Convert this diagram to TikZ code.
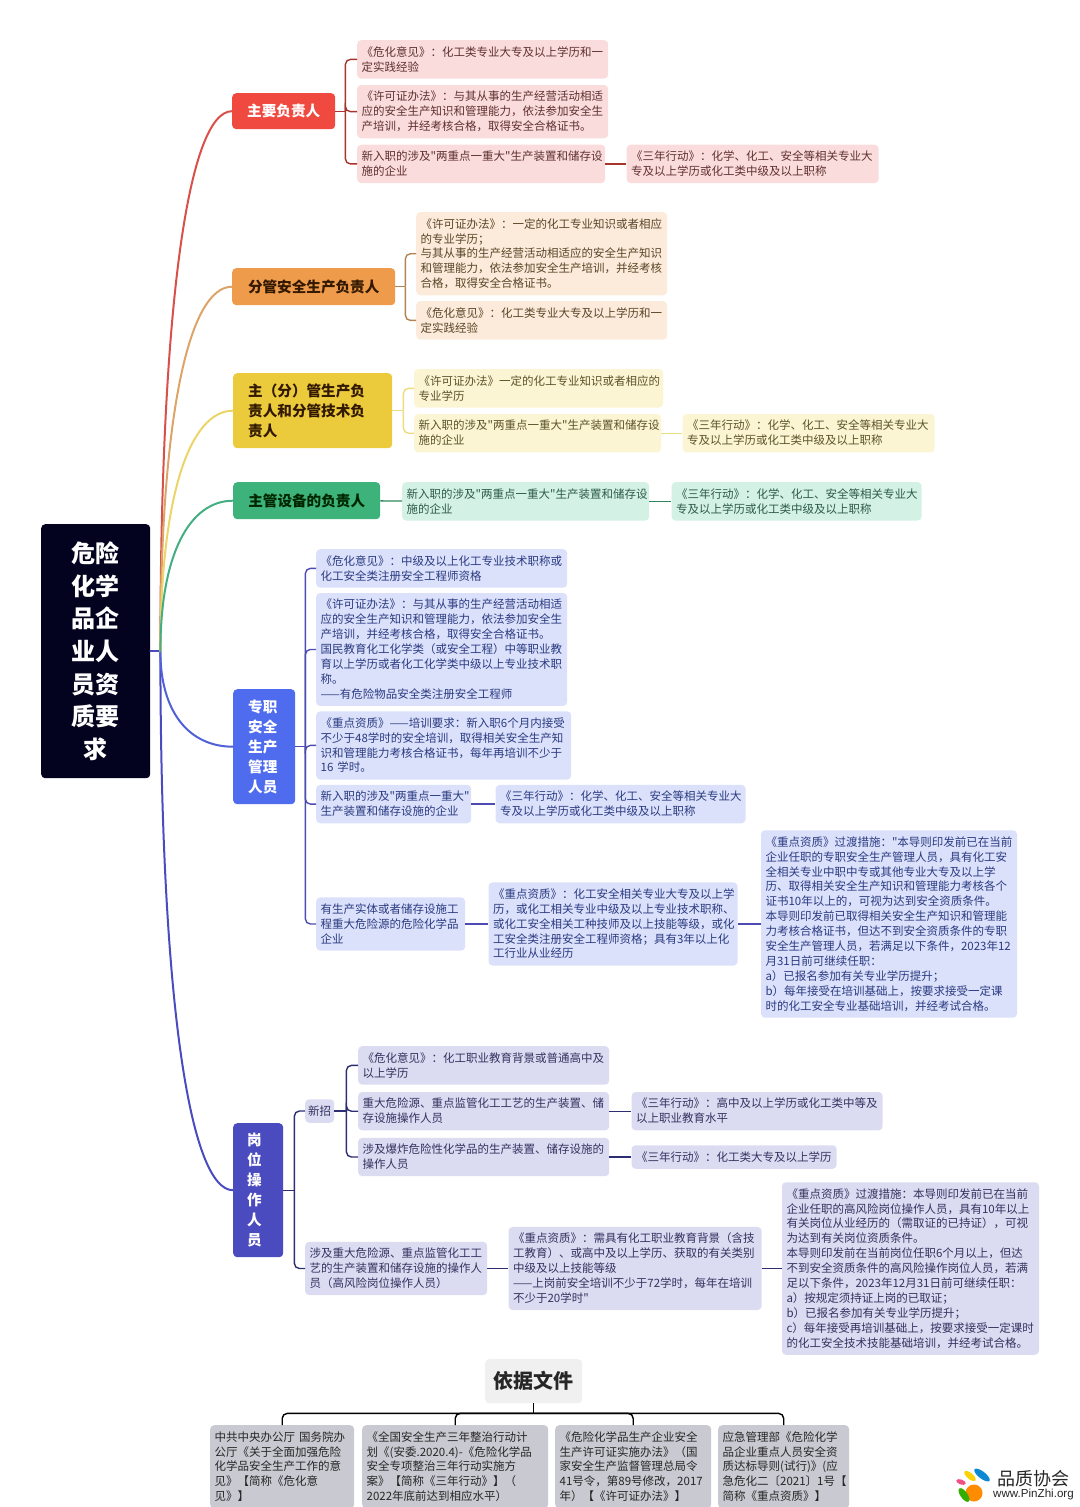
\documentclass[tikz,border=0pt]{standalone}
\usepackage{fontspec}
\setmainfont{Noto Sans CJK SC}[Ligatures=TeXOff]
\setsansfont{Liberation Sans}
\usetikzlibrary{positioning,calc}
\definecolor{rootfill}{HTML}{03031F}
\definecolor{redfill}{HTML}{F04A40}
\definecolor{orangefill}{HTML}{EE9B4C}
\definecolor{yellowfill}{HTML}{EBCB3C}
\definecolor{greenfill}{HTML}{3DB27A}
\definecolor{bluefill}{HTML}{4F6BEE}
\definecolor{indigofill}{HTML}{4B4BC0}
\definecolor{redleaffill}{HTML}{FBDCDC}
\definecolor{orangeleaffill}{HTML}{FCEBDA}
\definecolor{yellowleaffill}{HTML}{FBF5D3}
\definecolor{greenleaffill}{HTML}{D3F1E4}
\definecolor{blueleaffill}{HTML}{DBE1FB}
\definecolor{indigoleaffill}{HTML}{DBDBF2}
\definecolor{docfill}{HTML}{C9C9D2}
\definecolor{redtext}{HTML}{5E3030}
\definecolor{orangetext}{HTML}{5A4528}
\definecolor{yellowtext}{HTML}{5C5228}
\definecolor{greentext}{HTML}{2D5A48}
\definecolor{bluetext}{HTML}{2A3A80}
\definecolor{indigotext}{HTML}{33335F}
\definecolor{redline}{HTML}{D8504A}
\definecolor{orangeline}{HTML}{DDA468}
\definecolor{yellowline}{HTML}{EBD468}
\definecolor{greenline}{HTML}{44AE83}
\definecolor{blueline}{HTML}{5060D8}
\definecolor{indigoline}{HTML}{4B4BC0}

\begin{document}
\begin{tikzpicture}
  [x=1pt,y=-1pt,
   topic/.style={
    rounded corners=4pt,
    inner sep=0pt,
    align=center,
    anchor=north west,
    minimum width=#1,
    font=\fontsize{14.6}{20}\selectfont\bfseries
    },
   leaf/.style={
    rounded corners=4pt,
    inner xsep=4.5pt,
    inner ysep=4.3pt,
    text width=#1-9pt,
    align=left,
    execute at begin node=\rule[-3.3pt]{0pt}{14.9pt},
    execute at end node=\rule[-3.3pt]{0pt}{14.9pt},
    font=\fontsize{11.5}{14.9}\selectfont
    },
   redleaf/.style={leaf=#1,fill=redleaffill,text=redtext},
   orangeleaf/.style={leaf=#1,fill=orangeleaffill,text=orangetext},
   yellowleaf/.style={leaf=#1,fill=yellowleaffill,text=yellowtext},
   greenleaf/.style={leaf=#1,fill=greenleaffill,text=greentext},
   blueleaf/.style={leaf=#1,fill=blueleaffill,text=bluetext},
   indigoleaf/.style={leaf=#1,fill=indigoleaffill,text=indigotext},
   docleaf/.style={leaf=#1,fill=docfill,text=black!85,anchor=north west},
   branch/.style={line width=2pt,line cap=round},
   bracket/.style={line width=1.4pt,rounded corners=5pt}
  ]
  \useasboundingbox (0,0) rectangle (1079,1507);

  % ROOT
  \node [fill=rootfill,text=white,rounded corners=4pt,anchor=north west,
    minimum width=109pt,minimum height=254pt,inner sep=0pt,align=center,
    font=\fontsize{24}{32.6}\selectfont\bfseries]
    (root) at (41,524)
    {危险\\化学\\品企\\业人\\员资\\质要\\求};
  \coordinate [right=10pt of root.east] (hub);

  % TOPICS
  \node [topic=103pt,fill=redfill,text=white,minimum height=36pt] (zhuyao) at (232,93) {主要负责人};
  \node [topic=163pt,fill=orangefill,text=black!80!orange,minimum height=37pt] (fenguan) at (232,268) {分管安全生产负责人};
  \node [topic=159pt,fill=yellowfill,text=black!80!orange,minimum height=75pt,align=left,text width=129pt] (zhufen) at (233,373)
    {主（分）管生产负\\责人和分管技术负\\责人};
  \node [topic=147pt,fill=greenfill,text=black!85!green,minimum height=37pt] (shebei) at (233,482) {主管设备的负责人};
  \node [topic=62pt,fill=bluefill,text=white,minimum height=115pt,align=left,text width=32pt] (zhuanzhi) at (233,689)
    {专职\\安全\\生产\\管理\\人员};
  \node [topic=50pt,fill=indigofill,text=white,minimum height=134pt,align=left,text width=22pt] (gangwei) at (233,1123)
    {岗\\位\\操\\作\\人\\员};

  % RED
  \node [redleaf=251pt,anchor=north west] (weihuaA) at (357,40)
    {《危化意见》：化工类专业大专及以上学历和一\\定实践经验};
  \node [redleaf=251pt,below=6pt of weihuaA.south west,anchor=north west] (xukeA)
    {《许可证办法》：与其从事的生产经营活动相适\\应的安全生产知识和管理能力，依法参加安全生\\产培训，并经考核合格，取得安全合格证书。};
  \node [redleaf=248pt,below=6pt of xukeA.south west,anchor=north west] (xinruA)
    {新入职的涉及"两重点一重大"生产装置和储存设\\施的企业};
  \node [redleaf=252pt,right=21pt of xinruA] (sannianA)
    {《三年行动》：化学、化工、安全等相关专业大\\专及以上学历或化工类中级及以上职称};

  % ORANGE
  \node [orangeleaf=251pt,anchor=north west] (xukeB) at (416,212)
    {《许可证办法》：一定的化工专业知识或者相应\\的专业学历；\\与其从事的生产经营活动相适应的安全生产知识\\和管理能力，依法参加安全生产培训，并经考核\\合格，取得安全合格证书。};
  \node [orangeleaf=251pt,below=5.5pt of xukeB.south west,anchor=north west] (weihuaB)
    {《危化意见》：化工类专业大专及以上学历和一\\定实践经验};

  % YELLOW
  \node [yellowleaf=249pt,anchor=north west] (xukeC) at (414,369)
    {《许可证办法》一定的化工专业知识或者相应的\\专业学历};
  \node [yellowleaf=247pt,below=6pt of xukeC.south west,anchor=north west] (xinruC)
    {新入职的涉及"两重点一重大"生产装置和储存设\\施的企业};
  \node [yellowleaf=252pt,right=21pt of xinruC] (sannianC)
    {《三年行动》：化学、化工、安全等相关专业大\\专及以上学历或化工类中级及以上职称};

  % GREEN
  \node [greenleaf=247pt,anchor=north west] (xinruD) at (402,482)
    {新入职的涉及"两重点一重大"生产装置和储存设\\施的企业};
  \node [greenleaf=250pt,right=22pt of xinruD] (sannianD)
    {《三年行动》：化学、化工、安全等相关专业大\\专及以上学历或化工类中级及以上职称};

  % BLUE
  \node [blueleaf=251pt,anchor=north west] (weihuaE) at (316,549)
    {《危化意见》：中级及以上化工专业技术职称或\\化工安全类注册安全工程师资格};
  \node [blueleaf=251pt,below=5pt of weihuaE.south west,anchor=north west] (xukeE)
    {《许可证办法》：与其从事的生产经营活动相适\\应的安全生产知识和管理能力，依法参加安全生\\产培训，并经考核合格，取得安全合格证书。\\国民教育化工化学类（或安全工程）中等职业教\\育以上学历或者化工化学类中级以上专业技术职\\称。\\——有危险物品安全类注册安全工程师};
  \node [blueleaf=255pt,below=5pt of xukeE.south west,anchor=north west] (zhongdianE)
    {《重点资质》——培训要求：新入职6个月内接受\\不少于48学时的安全培训，取得相关安全生产知\\识和管理能力考核合格证书，每年再培训不少于\\16~学时。};
  \node [blueleaf=155pt,below=5pt of zhongdianE.south west,anchor=north west] (xinruE)
    {新入职的涉及"两重点一重大"\\生产装置和储存设施的企业};
  \node [blueleaf=250pt,right=24pt of xinruE] (sannianE)
    {《三年行动》：化学、化工、安全等相关专业大\\专及以上学历或化工类中级及以上职称};
  \node [blueleaf=149pt,anchor=west] (shitiE) at (316,924)
    {有生产实体或者储存设施工\\程重大危险源的危险化学品\\企业};
  \node [blueleaf=249pt,right=23pt of shitiE] (ziziE)
    {《重点资质》：化工安全相关专业大专及以上学\\历，或化工相关专业中级及以上专业技术职称、\\或化工安全相关工种技师及以上技能等级，或化\\工安全类注册安全工程师资格；具有3年以上化\\工行业从业经历};
  \node [blueleaf=256pt,right=23pt of ziziE] (guoduE)
    {《重点资质》过渡措施："本导则印发前已在当前\\企业任职的专职安全生产管理人员，具有化工安\\全相关专业中职中专或其他专业大专及以上学\\历、取得相关安全生产知识和管理能力考核各个\\证书10年以上的，可视为达到安全资质条件。\\本导则印发前已取得相关安全生产知识和管理能\\力考核合格证书，但达不到安全资质条件的专职\\安全生产管理人员，若满足以下条件，2023年12\\月31日前可继续任职：\\a）已报名参加有关专业学历提升；\\b）每年接受在培训基础上，按要求接受一定课\\时的化工安全专业基础培训，并经考试合格。};

  % INDIGO
  \node [indigoleaf=32pt,inner xsep=3pt,anchor=west] (xinzhao) at (305,1111) {新招};
  \node [indigoleaf=251pt,anchor=north west] (weihuaF) at (358,1046)
    {《危化意见》：化工职业教育背景或普通高中及\\以上学历};
  \node [indigoleaf=251pt,below=7pt of weihuaF.south west,anchor=north west] (zhongdaF)
    {重大危险源、重点监管化工工艺的生产装置、储\\存设施操作人员};
  \node [indigoleaf=251pt,below=7pt of zhongdaF.south west,anchor=north west] (baozhaF)
    {涉及爆炸危险性化学品的生产装置、储存设施的\\操作人员};
  \node [indigoleaf=251pt,right=22pt of zhongdaF] (sannianF)
    {《三年行动》：高中及以上学历或化工类中等及\\以上职业教育水平};
  \node [indigoleaf=205pt,right=22pt of baozhaF] (sannianG)
    {《三年行动》：化工类大专及以上学历};
  \node [indigoleaf=182pt,anchor=west] (gaofengG) at (305,1268.5)
    {涉及重大危险源、重点监管化工工\\艺的生产装置和储存设施的操作人\\员（高风险岗位操作人员）};
  \node [indigoleaf=253pt,right=21pt of gaofengG] (ziziG)
    {《重点资质》：需具有化工职业教育背景（含技\\工教育）、或高中及以上学历、获取的有关类别\\中级及以上技能等级\\——上岗前安全培训不少于72学时，每年在培训\\不少于20学时"};
  \node [indigoleaf=257pt,right=20pt of ziziG] (guoduG)
    {《重点资质》过渡措施：本导则印发前已在当前\\企业任职的高风险岗位操作人员，具有10年以上\\有关岗位从业经历的（需取证的已持证），可视\\为达到有关岗位资质条件。\\本导则印发前在当前岗位任职6个月以上，但达\\不到安全资质条件的高风险操作岗位人员，若满\\足以下条件，2023年12月31日前可继续任职：\\a）按规定须持证上岗的已取证；\\b）已报名参加有关专业学历提升；\\c）每年接受再培训基础上，按要求接受一定课时\\的化工安全技术技能基础培训，并经考试合格。};

  % DOCS
  \node [fill=black!6,rounded corners=4pt,anchor=north west,minimum width=97pt,minimum height=44pt,
    inner sep=0pt,font=\fontsize{20}{24}\selectfont\bfseries,text=black!85]
    (yiju) at (485,1359) {依据文件};
  \node [docleaf=144pt] (docA) at (210,1425)
    {中共中央办公厅~国务院办\\公厅《关于全面加强危险\\化学品安全生产工作的意\\见》【简称《危化意\\见》】};
  \node [docleaf=186pt] (docB) at (362,1425)
    {《全国安全生产三年整治行动计\\划《(安委.2020.4)-《危险化学品\\安全专项整治三年行动实施方\\案》【简称《三年行动》】（\\2022年底前达到相应水平）};
  \node [docleaf=156pt] (docC) at (555,1425)
    {《危险化学品生产企业安全\\生产许可证实施办法》（国\\家安全生产监督管理总局令\\41号令，第89号修改，2017\\年）【《许可证办法》】};
  \node [docleaf=131pt] (docD) at (718,1425)
    {应急管理部《危险化学\\品企业重点人员安全资\\质达标导则(试行)》(应\\急危化二〔2021〕1号【\\简称《重点资质》】};
  \coordinate [below=10pt of yiju.south] (dochub);

  % BRANCHES
  \draw [branch,indigoline] (root.east) -- (hub);
  \foreach \topicname/\topiccolor in {gangwei/indigoline,zhuanzhi/blueline,zhuyao/redline,fenguan/orangeline,zhufen/yellowline,shebei/greenline}
    \draw [branch,\topiccolor] (hub) .. controls ($(hub)!.65!(hub |- \topicname.west)$) and ($(\topicname.west)+(-43,0)$) .. (\topicname.west);

  % BRACKETS
  \coordinate [right=10pt of zhuyao.east] (zhuyaohub);
  \draw [bracket,redfill!70!black] (zhuyao.east) -- (zhuyaohub);
  \foreach \n in {weihuaA,xukeA,xinruA}
    \draw [bracket,redfill!70!black] (zhuyaohub) |- (\n.west);
  \draw [bracket,redfill!70!black] (xinruA) -- (sannianA);

  \coordinate [right=10pt of fenguan.east] (fenguanhub);
  \draw [bracket,orangeline!80!black] (fenguan.east) -- (fenguanhub);
  \foreach \n in {xukeB,weihuaB}
    \draw [bracket,orangeline!80!black] (fenguanhub) |- (\n.west);

  \coordinate [right=11pt of zhufen.east] (zhufenhub);
  \draw [bracket,yellowline!85!white] (zhufen.east) -- (zhufenhub);
  \foreach \n in {xukeC,xinruC}
    \draw [bracket,yellowline!85!white] (zhufenhub) |- (\n.west);
  \draw [bracket,yellowline!85!white] (xinruC) -- (sannianC);

  \draw [bracket,greenfill!75!black] (shebei) -- (xinruD);
  \draw [bracket,greenfill!75!black] (xinruD) -- (sannianD);

  \coordinate [right=10pt of zhuanzhi.east] (zhuanzhihub);
  \draw [bracket,blue!40!gray] (zhuanzhi.east) -- (zhuanzhihub);
  \foreach \n in {weihuaE,xukeE,zhongdianE,xinruE,shitiE}
    \draw [bracket,blue!40!gray] (zhuanzhihub) |- (\n.west);
  \draw [bracket,blue!40!gray] (xinruE) -- (sannianE);
  \draw [bracket,blue!40!gray] (shitiE) -- (ziziE);
  \draw [bracket,blue!40!gray] (ziziE) -- (guoduE);

  \coordinate [right=11pt of gangwei.east] (gangweihub);
  \draw [bracket,indigofill!60!black] (gangwei.east) -- (gangweihub);
  \foreach \n in {xinzhao,gaofengG}
    \draw [bracket,indigofill!60!black] (gangweihub) |- (\n.west);
  \coordinate [right=12pt of xinzhao.east] (xinzhaohub);
  \draw [bracket,indigofill!60!black] (xinzhao.east) -- (xinzhaohub);
  \foreach \n in {weihuaF,zhongdaF,baozhaF}
    \draw [bracket,indigofill!60!black] (xinzhaohub) |- (\n.west);
  \draw [bracket,indigofill!60!black] (zhongdaF) -- (sannianF);
  \draw [bracket,indigofill!60!black] (baozhaF) -- (sannianG);
  \draw [bracket,indigofill!60!black] (gaofengG) -- (ziziG);
  \draw [bracket,indigofill!60!black] (ziziG) -- (guoduG);

  \draw [bracket,black] (yiju.south) -- (dochub);
  \foreach \n in {docA,docB,docC,docD}
    \draw [bracket,black] (dochub) -| (\n.north);

  % LOGO
  \fill [yellow!70!orange,rotate around={-40:(970,1476)}] (970,1476) ellipse (7pt and 3pt);
  \fill [cyan!70!blue,rotate around={-38:(982,1475)}] (982,1475) ellipse (9.5pt and 3.5pt);
  \fill [magenta!60!red!70!white,rotate around={-20:(961,1482)}] (961,1482) ellipse (5pt and 2.5pt);
  \fill [orange!90!yellow] (974,1493) circle (8.5pt);
  \fill [green!60!black!80!yellow,rotate around={-55:(964,1495)}] (964,1495) ellipse (8pt and 3.5pt);
  \node [anchor=west,inner sep=0pt,font=\fontsize{18}{20}\selectfont,text=black!85] (logotext) at (997,1478.5) {品质协会};
  \node [below=2pt of logotext.south west,xshift=-4pt,anchor=north west,inner sep=0pt,font=\sffamily\fontsize{11.6}{12}\selectfont,text=black!85] (logourl) {www.PinZhi.org};
\end{tikzpicture}
\end{document}
